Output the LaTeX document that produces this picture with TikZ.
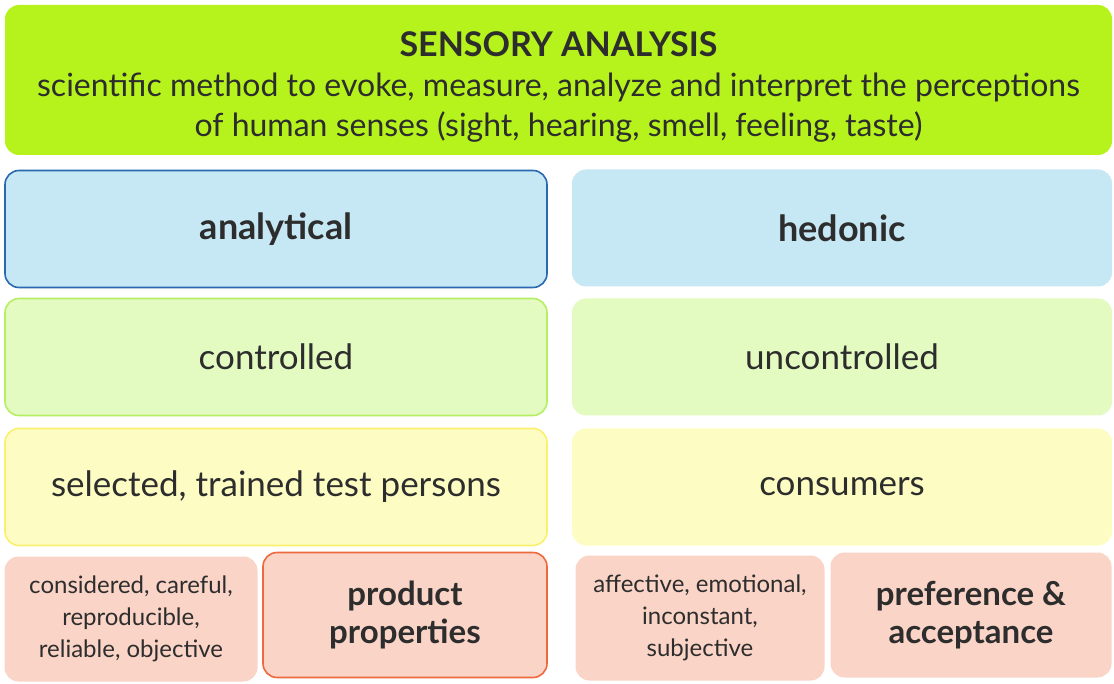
\documentclass[tikz,border=0pt]{standalone}
\usepackage{fontspec}
\setmainfont{Lato}
\usetikzlibrary{positioning}

\definecolor{limegreen}{RGB}{182,243,28}
\definecolor{skyfill}{RGB}{198,232,245}
\definecolor{skyline}{RGB}{40,105,175}
\definecolor{greenfill}{RGB}{227,250,192}
\definecolor{greenline}{RGB}{182,238,100}
\definecolor{yellowfill}{RGB}{253,253,195}
\definecolor{yellowline}{RGB}{250,240,110}
\definecolor{pinkfill}{RGB}{250,212,198}
\definecolor{orangeline}{RGB}{238,105,62}
\definecolor{txt}{RGB}{45,45,45}

\begin{document}
\begin{tikzpicture}[x=1pt,y=-1pt,
	box/.style={rounded corners=14pt, align=center, text=txt, inner sep=0pt},
	wide/.style={box, minimum width=542pt, minimum height=117pt},
	small/.style={box, minimum height=125pt},
	big/.style={font=\fontsize{35}{38}\selectfont},
	bigbold/.style={font=\fontsize{36}{38}\selectfont\bfseries},
	label/.style={font=\fontsize{33}{38}\selectfont\bfseries},
	note/.style={font=\fontsize{24}{32}\selectfont}]
	\useasboundingbox (0,0) rectangle (1114,684);
	
	% header
	\node[box, fill=limegreen, minimum width=1107pt, minimum height=150pt] (head) at (558.5,80) {};
	\node[align=center, text=txt, inner sep=0pt, font=\fontsize{32}{40}\selectfont] (headtext) at (558.5,87)
	{{\fontsize{34}{40}\selectfont\bfseries SENSORY ANALYSIS}\\
		scientific method to evoke, measure, analyze and interpret the perceptions\\
		of human senses (sight, hearing, smell, feeling, taste)};
	
	% left column
	\node[wide, bigbold, fill=skyfill, draw=skyline, line width=1.6pt] (analytical) at (276,229) {analytical};
	\node[wide, big, fill=greenfill, draw=greenline, line width=1.6pt] (controlled) at (276,357) {controlled};
	\node[wide, big, fill=yellowfill, draw=yellowline, line width=1.6pt] (selected) at (276,487) {selected, trained test persons};
	\node[small, note, fill=pinkfill, minimum width=253pt] (considered) at (131,619)
	{considered, careful,\\reproducible,\\reliable, objective};
	\node[small, label, fill=pinkfill, draw=orangeline, line width=1.6pt, minimum width=284pt] (product) at (405,615)
	{\raisebox{-3pt}{product}\\\raisebox{-3pt}{properties}};
	
	% right column
	\node[wide, bigbold, fill=skyfill, minimum width=540pt] (hedonic) at (842,228) {hedonic};
	\node[wide, big, fill=greenfill, minimum width=540pt] (uncontrolled) at (842,357) {uncontrolled};
	\node[wide, big, fill=yellowfill, minimum width=540pt] (consumers) at (842,487) {consumers};
	\node[small, note, fill=pinkfill, minimum width=249pt] (affective) at (700,618)
	{affective, emotional,\\inconstant,\\subjective};
	\node[small, label, fill=pinkfill, minimum width=281pt] (preference) at (971,615)
	{preference \&\\acceptance};
\end{tikzpicture}
\end{document}
